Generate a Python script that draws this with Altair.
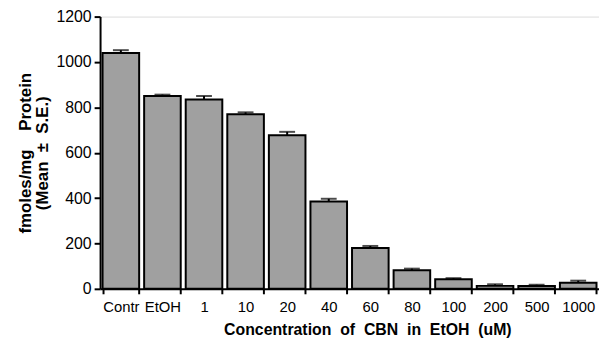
import altair as alt
import pandas as pd

categories = ["Contr", "EtOH", "1", "10", "20", "40", "60", "80", "100", "200", "500", "1000"]
means = [1040, 850, 835, 770, 677, 385, 180, 82, 42, 13, 12, 27]
ses = [12, 6, 15, 8, 15, 12, 9, 7, 5, 7, 6, 9]
ytick_values = [0, 100, 200, 300, 400, 500, 600, 700, 800, 900, 1000, 1100, 1200]

df = pd.DataFrame({"cat": categories, "mean": means, "se": ses})
df["top"] = df["mean"] + df["se"]

FONT = "Liberation Sans"
xscale = alt.Scale(domain=categories, paddingInner=0.12, paddingOuter=0.06)
yscale = alt.Scale(domain=[0, 1200], nice=False)

base = alt.Chart(df)

bars = base.mark_bar(fill="#a0a0a0", stroke="black", strokeWidth=2).encode(
    x=alt.X("cat:N", sort=categories, scale=xscale,
            axis=alt.Axis(title="Concentration\u00a0 of\u00a0 CBN\u00a0 in\u00a0 EtOH\u00a0 (uM)",
                          labelAngle=0, tickBand="extent", labelFontSize=15,
                          labelFont=FONT, labelColor="black", labelPadding=6,
                          titleFont=FONT, titleFontSize=16, titleFontWeight="bold",
                          titleColor="black", titlePadding=7, tickSize=5, tickWidth=2,
                          domainWidth=2, domainColor="black", tickColor="black",
                          titleX=270, grid=False)),
    y=alt.Y("mean:Q", scale=yscale,
            axis=alt.Axis(values=ytick_values, format="d",
                          labelExpr="datum.value % 200 == 0 ? datum.label : ''",
                          title=["fmoles/mg\u00a0\u00a0\u00a0 Protein", "(Mean\u00a0 ±\u00a0 S.E.)"],
                          labelFontSize=16, labelFont=FONT, labelColor="black",
                          labelPadding=3, tickSize=6, tickWidth=2, domainWidth=2,
                          domainColor="black", tickColor="black", grid=False,
                          titleFont=FONT, titleFontSize=17, titleFontWeight="bold",
                          titleColor="black", titlePadding=5, titleLineHeight=17)),
)

whisk = base.mark_rule(color="black", strokeWidth=2).encode(
    x=alt.X("cat:N", sort=categories, scale=xscale),
    y="mean:Q",
    y2="top:Q",
)

caps = base.mark_tick(color="black", thickness=2, size=16).encode(
    x=alt.X("cat:N", sort=categories, scale=xscale),
    y=alt.Y("top:Q", scale=yscale),
)

chart = alt.layer(bars, whisk, caps).properties(
    width=504, height=275,
    autosize=alt.AutoSizeParams(type="none"),
    padding={"left": 93, "top": 7, "right": 0, "bottom": 50},
).configure_view(stroke=None).configure(background="white")

chart.save("out.html", embed_options={"renderer": "svg", "actions": False})
